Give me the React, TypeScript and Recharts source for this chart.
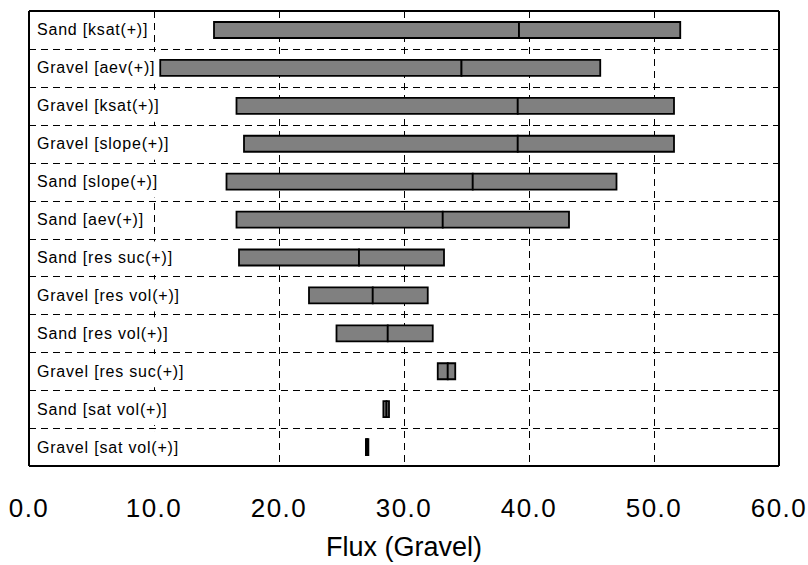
import React from 'react';
import { BarChart, Bar, XAxis, YAxis, CartesianGrid } from 'recharts';

// Sensitivity ranges of gravel flux: low end, base case and high end per parameter
const categories = [
  'Sand [ksat(+)]',
  'Gravel [aev(+)]',
  'Gravel [ksat(+)]',
  'Gravel [slope(+)]',
  'Sand [slope(+)]',
  'Sand [aev(+)]',
  'Sand [res suc(+)]',
  'Gravel [res vol(+)]',
  'Sand [res vol(+)]',
  'Gravel [res suc(+)]',
  'Sand [sat vol(+)]',
  'Gravel [sat vol(+)]',
];
const lowValues = [14.8, 10.5, 16.6, 17.2, 15.8, 16.6, 16.8, 22.4, 24.6, 32.7, 28.35, 26.95];
const baseValues = [39.2, 34.6, 39.1, 39.1, 35.5, 33.1, 26.4, 27.5, 28.7, 33.5, 28.6, 27.05];
const highValues = [52.1, 45.7, 51.6, 51.6, 47.0, 43.2, 33.2, 31.9, 32.3, 34.1, 28.8, 27.15];
const xTicks = [0, 10, 20, 30, 40, 50, 60];

const data = categories.map((name, i) => ({
  name,
  offset: lowValues[i],
  lower: baseValues[i] - lowValues[i],
  upper: highValues[i] - baseValues[i],
}));

const FONT = '"Liberation Sans", Arial, Helvetica, sans-serif';
const LABEL_SIZE = 16;
const LABEL_SPACING = 0.8;

let measureCtx: CanvasRenderingContext2D | null = null;
function labelWidth(s: string): number {
  if (!measureCtx) {
    const c = document.createElement('canvas');
    measureCtx = c.getContext('2d');
  }
  if (!measureCtx) return s.length * 8;
  measureCtx.font = `${LABEL_SIZE}px "Liberation Sans", Arial, sans-serif`;
  return measureCtx.measureText(s).width + LABEL_SPACING * s.length;
}

// Category names sit inside the plot, on a white box that hides the grid behind them
const renderCategoryTick = (props: any) => {
  const { y, payload } = props;
  const x = 29;
  const w = labelWidth(String(payload.value));
  return (
    <g key={`cat-${payload.value}`}>
      <rect x={x + 3} y={y - 16} width={w + 8} height={32} fill="#ffffff" />
      <text
        x={x + 8}
        y={y + 5.5}
        fontSize={LABEL_SIZE}
        letterSpacing={LABEL_SPACING}
        fontFamily={FONT}
        fill="#000"
      >
        {payload.value}
      </text>
    </g>
  );
};

// Dashed separators between rows
const rowBoundaries = ({ offset }: any) => {
  const n = categories.length;
  const step = offset.height / n;
  const pts: number[] = [];
  for (let k = 1; k < n; k++) pts.push(Math.round(offset.top + k * step) + 0.5);
  return pts;
};
const columnLines = ({ offset }: any) =>
  xTicks.slice(1, -1).map((t) => Math.round(offset.left + (t / 60) * offset.width) + 0.5);

// Solid frame around the plot area
const frameRows = ({ offset }: any) => [offset.top, offset.top + offset.height];
const frameCols = ({ offset }: any) => [offset.left, offset.left + offset.width];

export default function App() {
  return (
    <div style={{ position: 'absolute', left: 0, top: 0, width: 808, height: 565, background: '#fff' }}>
      <BarChart
        width={808}
        height={565}
        data={data}
        layout="vertical"
        margin={{ top: 11, right: 29, bottom: 0, left: 29 }}
        barCategoryGap={0}
        barSize={16}
      >
        <CartesianGrid
          stroke="#000"
          strokeWidth={1}
          strokeDasharray="7 5"
          horizontalCoordinatesGenerator={rowBoundaries}
          verticalCoordinatesGenerator={columnLines}
        />
        <XAxis
          type="number"
          domain={[0, 60]}
          ticks={xTicks}
          interval={0}
          tickFormatter={(v: number) => v.toFixed(1)}
          height={99}
          axisLine={false}
          tickLine={false}
          tickSize={0}
          tickMargin={33}
          tick={{ fill: '#000', fontSize: 26, fontFamily: FONT, letterSpacing: 1.5 }}
          label={{
            value: 'Flux (Gravel)',
            position: 'insideBottom',
            offset: 9,
            fill: '#000',
            fontSize: 27,
            fontFamily: FONT,
          }}
        />
        <Bar dataKey="offset" stackId="range" fill="transparent" stroke="none" isAnimationActive={false} />
        <Bar dataKey="lower" stackId="range" fill="#808080" stroke="#000" strokeWidth={1.8} isAnimationActive={false} />
        <Bar dataKey="upper" stackId="range" fill="#808080" stroke="#000" strokeWidth={1.8} isAnimationActive={false} />
        <YAxis
          type="category"
          dataKey="name"
          width={60}
          mirror
          interval={0}
          axisLine={false}
          tickLine={false}
          tickSize={0}
          tick={renderCategoryTick}
        />
        <CartesianGrid
          stroke="#000"
          strokeWidth={2}
          horizontalCoordinatesGenerator={frameRows}
          verticalCoordinatesGenerator={frameCols}
        />
      </BarChart>
    </div>
  );
}
